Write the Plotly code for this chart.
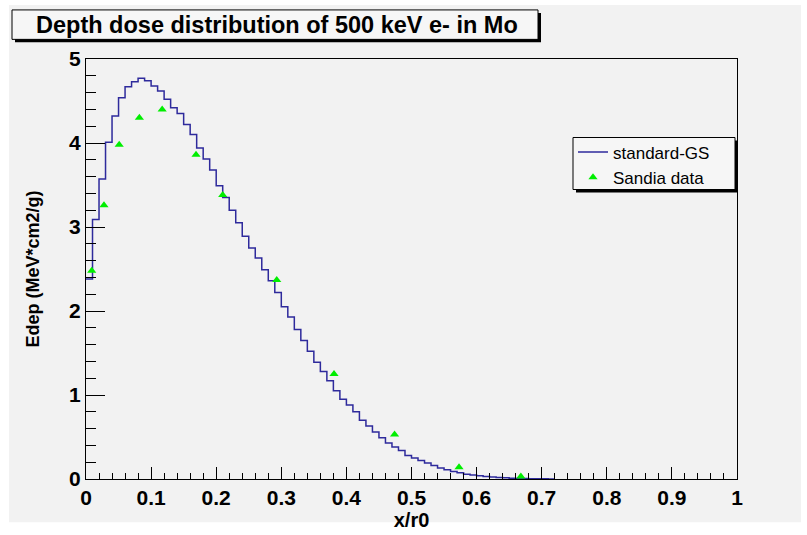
import plotly.graph_objects as go

# ---- data ----
bin_width = 0.01
hist_values = [2.38, 3.09, 3.57, 4.01, 4.32, 4.54, 4.67, 4.73, 4.77, 4.74,
               4.68, 4.62, 4.52, 4.42, 4.35, 4.22, 4.10, 3.94, 3.81, 3.68,
               3.49, 3.35, 3.20, 3.05, 2.89, 2.75, 2.63, 2.49, 2.36, 2.22,
               2.05, 1.93, 1.78, 1.65, 1.52, 1.39, 1.28, 1.17, 1.05, 0.95,
               0.88, 0.80, 0.70, 0.63, 0.56, 0.49, 0.43, 0.38, 0.34, 0.28,
               0.25, 0.22, 0.19, 0.16, 0.13, 0.11, 0.09, 0.074, 0.058, 0.047,
               0.038, 0.030, 0.024, 0.018, 0.014, 0.010, 0.007, 0.005, 0.004, 0.003,
               0.002, 0.001]
sandia_x = [0.0088, 0.0276, 0.051, 0.082, 0.117, 0.169, 0.210, 0.293, 0.381, 0.474, 0.573, 0.668]
sandia_y = [2.48, 3.26, 3.98, 4.30, 4.40, 3.86, 3.38, 2.37, 1.25, 0.53, 0.14, 0.03]

x_tick_vals = [0, 0.1, 0.2, 0.3, 0.4, 0.5, 0.6, 0.7, 0.8, 0.9, 1]
x_tick_text = ["0", "0.1", "0.2", "0.3", "0.4", "0.5", "0.6", "0.7", "0.8", "0.9", "1"]
y_tick_vals = [0, 1, 2, 3, 4, 5]
y_tick_text = ["0", "1", "2", "3", "4", "5"]

title_text = "Depth dose distribution of 500 keV e- in Mo"
x_title = "x/r0"
y_title = "Edep (MeV*cm2/g)"

# histogram step coordinates (left edges + final right edge)
edges = [i * bin_width for i in range(len(hist_values) + 1)]
step_x = edges
step_y = hist_values + [hist_values[-1]]

W, H = 807, 535
ML, MR, MT, MB = 86, 70, 59, 48
BG = "#f2f2f2"
FONT = "Liberation Sans, Arial, sans-serif"

fig = go.Figure()
fig.add_trace(go.Scatter(
    x=step_x, y=step_y, mode="lines", line=dict(shape="hv", color="#2e2a9c", width=1.5),
    name="standard-GS"))
fig.add_trace(go.Scatter(
    x=sandia_x, y=sandia_y, mode="markers",
    marker=dict(symbol="triangle-up", color="#00ee00", size=8),
    name="Sandia data"))

axis_common = dict(showgrid=False, zeroline=False, showline=True, linecolor="black",
                   linewidth=1, mirror=True, ticks="inside", tickcolor="black",
                   tickfont=dict(family=FONT, size=21, color="black", weight="bold"))

fig.update_xaxes(range=[0, 1], tickvals=x_tick_vals, ticktext=x_tick_text, ticklen=12,
                 minor=dict(dtick=0.02, ticklen=6, ticks="inside", tickcolor="black"),
                 title=dict(text=x_title, font=dict(family=FONT, size=20, color="black", weight="bold"),
                            standoff=0),
                 **axis_common)
fig.update_yaxes(range=[0, 5], tickvals=y_tick_vals, ticktext=y_tick_text, ticklen=19,
                 minor=dict(dtick=0.2, ticklen=10, ticks="inside", tickcolor="black"),
                 title=dict(text=y_title, font=dict(family=FONT, size=18, color="black", weight="bold"),
                            standoff=24),
                 **axis_common)

def px_x(p):
    return (p - ML) / (W - ML - MR)
def px_y(p):
    return 1 - (p - MT) / (H - MT - MB)

shapes = [
    # pad background
    dict(type="rect", xref="paper", yref="paper", layer="below",
         x0=px_x(9), x1=px_x(801), y0=px_y(531), y1=px_y(4),
         fillcolor=BG, line=dict(width=0)),
    # title box shadow + box
    dict(type="rect", xref="paper", yref="paper", layer="above",
         x0=px_x(15), x1=px_x(541), y0=px_y(42), y1=px_y(12),
         fillcolor="black", line=dict(width=0)),
    dict(type="rect", xref="paper", yref="paper", layer="above",
         x0=px_x(12), x1=px_x(538), y0=px_y(39), y1=px_y(9),
         fillcolor="#f6f6f6", line=dict(color="black", width=1)),
    # legend shadow + box
    dict(type="rect", xref="paper", yref="paper", layer="above",
         x0=px_x(576), x1=px_x(738), y0=px_y(195), y1=px_y(142),
         fillcolor="black", line=dict(width=0)),
    dict(type="rect", xref="paper", yref="paper", layer="above",
         x0=px_x(573), x1=px_x(735), y0=px_y(192), y1=px_y(139),
         fillcolor="#f6f6f6", line=dict(color="black", width=1)),
]

fig.update_layout(
    width=W, height=H,
    margin=dict(l=ML, r=MR, t=MT, b=MB, pad=0),
    paper_bgcolor="white", plot_bgcolor=BG,
    shapes=shapes,
    annotations=[dict(text=title_text, xref="paper", yref="paper",
                      x=px_x(277), y=px_y(24), xanchor="center", yanchor="middle",
                      showarrow=False,
                      font=dict(family=FONT, size=23.5, color="black", weight="bold"))],
    legend=dict(x=px_x(573), y=px_y(136), xanchor="left", yanchor="top",
                bgcolor="rgba(0,0,0,0)", borderwidth=0,
                font=dict(family=FONT, size=17, color="black"),
                tracegroupgap=0, itemwidth=30),
    showlegend=True,
)

fig.write_html("out.html", post_script="document.body.style.margin='0';",
               config={"displayModeBar": False})
